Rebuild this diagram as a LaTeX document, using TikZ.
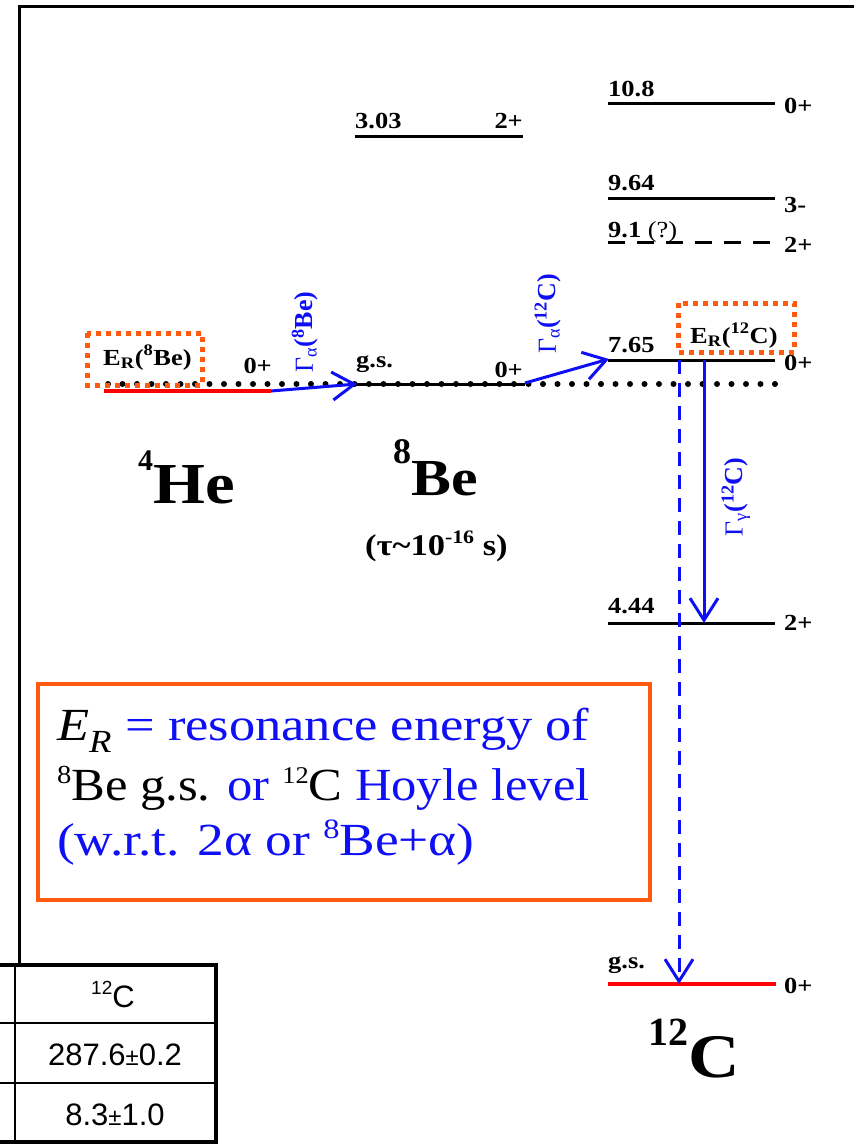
\documentclass[tikz,border=0pt]{standalone}
\usepackage{fontspec}
\setmainfont{Liberation Serif}
\newfontfamily\arialf{Liberation Sans}
\usetikzlibrary{arrows.meta}
\definecolor{orng}{RGB}{255,90,15}
\definecolor{myblue}{RGB}{15,15,245}
\newcommand\hxs[1]{\scalebox{1.15}[1]{#1}}
\newcommand\hxb[1]{\scalebox{1.12}[1]{#1}}
\begin{document}
\begin{tikzpicture}[x=1pt,y=-1pt,
  lvl/.style={line width=3pt},
  lt/.style={font=\fontsize{23}{23}\selectfont\bfseries, inner sep=0pt, anchor=base west},
  rt/.style={font=\fontsize{23}{23}\selectfont\bfseries, inner sep=0pt, anchor=base east},
  erbox/.style={draw=orng, line width=5pt, dash pattern=on 5pt off 5pt},
  dotline/.style={line width=6pt, line cap=round, dash pattern=on 0pt off 14.5pt},
  garrow/.style={myblue, line width=3pt, -{Straight Barb[length=22pt,width=28pt,line width=3pt]}},
  glab/.style={myblue, font=\fontsize{26}{26}\selectfont, inner sep=0pt, rotate=90},
  big/.style={inner sep=0pt, anchor=base west, font=\bfseries},
  boxtxt/.style={inner sep=0pt, anchor=base west, font=\fontsize{46}{46}\selectfont},
  tabtxt/.style={inner sep=0pt, anchor=base, font=\arialf\fontsize{31}{31}\selectfont}
]
\useasboundingbox (0,0) rectangle (854,1144);

% frame
\coordinate (fb) at (19,965);
\coordinate (ft) at (19,6);
\coordinate (fr) at (856,6);
\draw[line width=3pt] (fb) -- (ft) -- (fr);

% table
\coordinate (t1a) at (0,965);   \coordinate (t1b) at (218,965);
\coordinate (t2a) at (0,1023);  \coordinate (t2b) at (216,1023);
\coordinate (t3a) at (0,1083);  \coordinate (t3b) at (216,1083);
\coordinate (t4a) at (0,1142);  \coordinate (t4b) at (218,1142);
\coordinate (tva) at (15,965);  \coordinate (tvb) at (15,1144);
\coordinate (tra) at (216,963); \coordinate (trb) at (216,1144);
\draw[line width=4pt] (t1a) -- (t1b);
\draw[line width=2.5pt] (t2a) -- (t2b);
\draw[line width=2.5pt] (t3a) -- (t3b);
\draw[line width=4pt] (t4a) -- (t4b);
\draw[line width=2.5pt] (tva) -- (tvb);
\draw[line width=4pt] (tra) -- (trb);
\node[tabtxt] (tc1) at (113,1007) {\raisebox{13pt}{\fontsize{19}{19}\selectfont 12}C};
\node[tabtxt] (tc2) at (115,1065) {287.6{\fontsize{24}{24}\selectfont±}0.2};
\node[tabtxt] (tc3) at (115,1125) {8.3{\fontsize{24}{24}\selectfont±}1.0};

% 4He level
\coordinate (he1) at (104,391);
\coordinate (he2) at (271,391);
\draw[red, line width=3.5pt] (he1) -- (he2);

% 8Be levels
\coordinate (be1) at (357,384);
\coordinate (be2) at (525,384);
\draw[lvl] (be1) -- (be2);
\coordinate (bx1) at (355,136);
\coordinate (bx2) at (523,136);
\draw[lvl] (bx1) -- (bx2);

% 12C levels
\coordinate (c108a) at (608,103); \coordinate (c108b) at (775,103);
\coordinate (c964a) at (608,198); \coordinate (c964b) at (775,198);
\coordinate (c91a) at (608,242);  \coordinate (c91b) at (775,242);
\coordinate (c765a) at (608,360); \coordinate (c765b) at (775,360);
\coordinate (c444a) at (608,623); \coordinate (c444b) at (775,623);
\coordinate (cgsa) at (608,984);  \coordinate (cgsb) at (776,984);
\draw[lvl] (c108a) -- (c108b);
\draw[lvl] (c964a) -- (c964b);
\draw[lvl, dash pattern=on 17pt off 12pt] (c91a) -- (c91b);
\draw[lvl] (c765a) -- (c765b);
\draw[lvl] (c444a) -- (c444b);
\draw[red, line width=3.5pt] (cgsa) -- (cgsb);

% dotted threshold line
\coordinate (d1) at (108,384);
\coordinate (d2) at (775,384);
\draw[dotline] (d1) -- (d2);

% level labels
\node[lt] (l108) at (608,96) {\hxs{10.8}};
\node[lt] (s108) at (784,113) {\hxs{0+}};
\node[lt] (l964) at (608,190) {\hxs{9.64}};
\node[lt] (s964) at (784,212) {\hxs{3-}};
\node[lt] (l91) at (608,237) {\hxs{9.1 {\mdseries (?)}}};
\node[lt] (s91) at (784,252) {\hxs{2+}};
\node[lt] (l765) at (608,352) {\hxs{7.65}};
\node[lt] (s765) at (784,370) {\hxs{0+}};
\node[lt] (l444) at (608,613) {\hxs{4.44}};
\node[lt] (s444) at (784,630) {\hxs{2+}};
\node[lt] (lgs) at (608,968) {\hxs{g.s.}};
\node[lt] (sgs) at (784,993) {\hxs{0+}};
\node[lt] (l303) at (355,128) {\hxs{3.03}};
\node[rt] (s303) at (523,128) {\hxs{2+}};
\node[lt] (lbgs) at (356,367) {\hxs{g.s.}};
\node[rt] (sbgs) at (523,377) {\hxs{0+}};
\node[rt] (shegs) at (272,373) {\hxs{0+}};

% E_R boxes
\coordinate (eb1) at (87,333); \coordinate (eb2) at (202,385);
\draw[erbox] (eb1) rectangle (eb2);
\node[lt] (er8) at (103,365) {\hxs{E\textsubscript{R}(\textsuperscript{8}Be)}};
\coordinate (ec1) at (678,303); \coordinate (ec2) at (794,352);
\draw[erbox] (ec1) rectangle (ec2);
\node[lt] (er12) at (690,343) {\hxs{E\textsubscript{R}(\textsuperscript{12}C)}};

% arrows
\draw[garrow] (he2) -- (be1);
\coordinate (a2s) at (525,383);
\coordinate (a2e) at (609,359);
\draw[garrow] (a2s) -- (a2e);
\coordinate (a3s) at (704,360);
\coordinate (a3e) at (704,623);
\draw[garrow] (a3s) -- (a3e);
\coordinate (a4s) at (679,360);
\coordinate (a4e) at (679,984);
\draw[garrow, dash pattern=on 14pt off 9pt] (a4s) -- (a4e);

% Gamma labels
\node[glab] (g1) at (305,332) {Γ\textsubscript{α}\textbf{(\textsuperscript{8}Be)}};
\node[glab] (g2) at (548,314) {Γ\textsubscript{α}\textbf{(\textsuperscript{12}C)}};
\node[glab] (g3) at (736,497) {Γ\textsubscript{γ}\textbf{(\textsuperscript{12}C)}};

% nucleus names
\node[big] (he) at (138,503) {\raisebox{33pt}{\fontsize{30}{30}\selectfont 4}{\fontsize{58}{58}\selectfont\hxs{He}}};
\node[big] (be) at (393,495) {\raisebox{32pt}{\fontsize{36}{36}\selectfont 8}{\fontsize{52}{52}\selectfont\hxs{Be}}};
\node[big] (tau) at (365,555) {\fontsize{30}{30}\selectfont\hxs{(τ\textasciitilde 10\raisebox{12pt}{\fontsize{19}{19}\selectfont -16} s)}};
\node[big] (cc) at (648,1077) {\raisebox{32pt}{\fontsize{40}{40}\selectfont 12}{\fontsize{62}{62}\selectfont\hxs{C}}};

% explanation box
\coordinate (xb1) at (38,684); \coordinate (xb2) at (650,900);
\draw[orng, line width=3.5pt] (xb1) rectangle (xb2);
\node[boxtxt] (x1) at (57,740) {\scalebox{1.14}[1]{\textit{E}\textsubscript{\textit{R}} \color{myblue}= resonance energy of}};
\node[boxtxt] (x2) at (57,800) {\scalebox{1.1}[1]{\raisebox{17pt}{\fontsize{26}{26}\selectfont 8}Be g.s. {\color{myblue}or} \raisebox{17pt}{\fontsize{24}{24}\selectfont 12}C {\color{myblue}Hoyle level}}};
\node[boxtxt, myblue] (x3) at (57,855) {\scalebox{1.16}[1]{(w.r.t. 2α or \raisebox{17pt}{\fontsize{28}{28}\selectfont 8}Be+α)}};
\end{tikzpicture}
\end{document}
